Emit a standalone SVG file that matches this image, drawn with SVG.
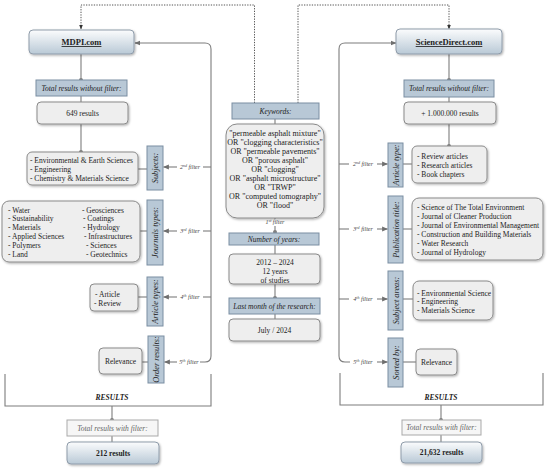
<svg xmlns="http://www.w3.org/2000/svg" width="550" height="472" viewBox="0 0 550 472">
<defs>
<linearGradient id="gb" x1="0" y1="0" x2="0" y2="1">
<stop offset="0" stop-color="#fbfcfd"/>
<stop offset="1" stop-color="#b9c9d6"/>
</linearGradient>
<filter id="sh" x="-10%" y="-20%" width="125%" height="150%">
<feDropShadow dx="1" dy="1.2" stdDeviation="0.8" flood-color="#000" flood-opacity="0.3"/>
</filter>
<marker id="ah" viewBox="0 0 10 10" refX="9" refY="5" markerWidth="6" markerHeight="6" orient="auto" markerUnits="userSpaceOnUse">
<path d="M0,1 L10,5 L0,9 z" fill="#6f6f6f"/>
</marker>
<marker id="ad" viewBox="0 0 10 10" refX="9" refY="5" markerWidth="5" markerHeight="5" orient="auto" markerUnits="userSpaceOnUse">
<path d="M0,1 L10,5 L0,9 z" fill="#333"/>
</marker>
</defs>
<style>
text{font-family:"Liberation Serif","Times New Roman",serif;fill:#222}
.ln{fill:none;stroke:#7d7d7d;stroke-width:1.1}
.dot{fill:none;stroke:#555;stroke-width:1;stroke-dasharray:1.3 1.3}
.hd{fill:#b8c8d6;stroke:#7a8ea2;stroke-width:1}
.gb{fill:url(#gb);stroke:#8f9caa;stroke-width:1;filter:url(#sh)}
.gy{fill:#eeeeee;stroke:#8a8a8a;stroke-width:1;filter:url(#sh)}
.wf{fill:#f6f6f6;stroke:#a9a9a9;stroke-width:1}
.dt{fill:#808080}
.t{font-size:7.5px}
.it{font-size:7.5px;font-style:italic}
.vl{font-size:8.3px;font-style:italic}
.tt{font-size:8.5px;font-weight:bold;text-decoration:underline}
.b{font-size:7.5px;font-weight:bold}
.bi{font-size:7.5px;font-weight:bold;font-style:italic}
.fl{font-size:6px;font-style:italic;fill:#444}
.gt{font-size:7.5px;font-style:italic;fill:#666}
.kw{font-size:8px}
</style>

<g id="connectors">
<!-- dotted from keywords -->
<path class="dot" d="M254.5 103 V5 H81 V29" marker-end="url(#ad)"/>
<path class="dot" d="M298 103 V5 H449 V29" marker-end="url(#ad)"/>
<!-- left main loop -->
<path class="ln" d="M200 362 H205 Q211 362 211 356 V49 Q211 43 205 43 H135" marker-end="url(#ah)"/>
<!-- right main loop -->
<path class="ln" d="M350 362 H345 Q339 362 339 356 V49 Q339 43 345 43 H396" marker-end="url(#ah)"/>
<!-- left filter arrows -->
<path class="ln" d="M203 167 H211"/><path class="ln" d="M177 167 H163.5" marker-end="url(#ah)"/>
<path class="ln" d="M203 231 H211"/><path class="ln" d="M177 231 H163.5" marker-end="url(#ah)"/>
<path class="ln" d="M203 297 H211"/><path class="ln" d="M177 297 H163.5" marker-end="url(#ah)"/>
<path class="ln" d="M177 362 H164.5" marker-end="url(#ah)"/>
<!-- right filter arrows -->
<path class="ln" d="M339 164 H349"/><path class="ln" d="M377 164 H387.5" marker-end="url(#ah)"/>
<path class="ln" d="M339 229 H349"/><path class="ln" d="M377 229 H387.5" marker-end="url(#ah)"/>
<path class="ln" d="M339 299 H349"/><path class="ln" d="M377 299 H387.5" marker-end="url(#ah)"/>
<path class="ln" d="M377 362 H387.5" marker-end="url(#ah)"/>
<!-- left column vertical links -->
<path class="ln" d="M81 54 V80"/><path class="ln" d="M81 96 V102"/><path class="ln" d="M81 124 V152"/>
<circle class="dt" cx="81" cy="80" r="2"/><circle class="dt" cx="81" cy="152" r="2"/>
<!-- left list to label -->
<path class="ln" d="M138 169 H147"/><path class="ln" d="M140 231 H147"/><path class="ln" d="M138 297 H147"/><path class="ln" d="M142 362 H148"/>
<!-- right column vertical links -->
<path class="ln" d="M449 54 V80"/><path class="ln" d="M449 97 V102"/><path class="ln" d="M449 124 V146"/>
<circle class="dt" cx="449" cy="80" r="2"/><circle class="dt" cx="449" cy="146" r="2"/>
<path class="ln" d="M403 164 H412"/><path class="ln" d="M403 229 H412"/><path class="ln" d="M403 299 H413"/><path class="ln" d="M403 362 H416"/>
<!-- center -->
<path class="ln" d="M275 119 V124"/><path class="ln" d="M275 218 V219"/><path class="ln" d="M275 226 V232"/>
<circle class="dt" cx="275" cy="232" r="2"/>
<path class="ln" d="M275 245 V254"/><path class="ln" d="M275 284 V298"/><circle class="dt" cx="275" cy="298" r="2"/>
<path class="ln" d="M275 314 V319"/>
<!-- results brackets -->
<path class="ln" d="M5 374 V406 H211 V374"/>
<path class="ln" d="M112 406 V420"/><circle class="dt" cx="112" cy="420" r="2"/><path class="ln" d="M112 436 V442"/>
<path class="ln" d="M340 373 V405 H543 V373"/>
<path class="ln" d="M441 405 V420"/><circle class="dt" cx="441" cy="420" r="2"/><path class="ln" d="M441 435 V442"/>
</g>

<g id="filter-labels">
<text class="fl" x="190" y="169" text-anchor="middle">2<tspan dy="-2" font-size="4">nd</tspan><tspan dy="2"> filter</tspan></text>
<text class="fl" x="190" y="233" text-anchor="middle">3<tspan dy="-2" font-size="4">rd</tspan><tspan dy="2"> filter</tspan></text>
<text class="fl" x="190" y="299" text-anchor="middle">4<tspan dy="-2" font-size="4">th</tspan><tspan dy="2"> filter</tspan></text>
<text class="fl" x="189" y="364" text-anchor="middle">5<tspan dy="-2" font-size="4">th</tspan><tspan dy="2"> filter</tspan></text>
<text class="fl" x="363" y="166" text-anchor="middle">2<tspan dy="-2" font-size="4">nd</tspan><tspan dy="2"> filter</tspan></text>
<text class="fl" x="363" y="231" text-anchor="middle">3<tspan dy="-2" font-size="4">rd</tspan><tspan dy="2"> filter</tspan></text>
<text class="fl" x="363" y="301" text-anchor="middle">4<tspan dy="-2" font-size="4">th</tspan><tspan dy="2"> filter</tspan></text>
<text class="fl" x="363" y="364" text-anchor="middle">5<tspan dy="-2" font-size="4">th</tspan><tspan dy="2"> filter</tspan></text>
<text class="fl" x="275" y="224" text-anchor="middle">1<tspan dy="-2" font-size="4">st</tspan><tspan dy="2"> filter</tspan></text>
</g>

<g id="mdpi"><rect class="gb" x="29" y="30" width="105" height="24" rx="4"/><text class="tt" x="81.5" y="45" text-anchor="middle">MDPI.com</text></g>
<g id="mdpi-total-hdr"><rect class="hd" x="36" y="80" width="91" height="16"/><text class="it" x="81.5" y="90.5" text-anchor="middle">Total results without filter:</text></g>
<g id="mdpi-649"><rect class="gy" x="37" y="102" width="91" height="22" rx="4"/><text class="t" x="82.5" y="115.5" text-anchor="middle">649 results</text></g>
<g id="mdpi-subjects-list"><rect class="gy" x="27" y="152" width="111" height="33" rx="5"/>
<text class="t" x="30" y="162.5">- Environmental &amp; Earth Sciences</text>
<text class="t" x="30" y="171.5">- Engineering</text>
<text class="t" x="30" y="180.5">- Chemistry &amp; Materials Science</text></g>
<g id="mdpi-subjects-lbl"><rect class="hd" x="147" y="146" width="16" height="44"/><text class="vl" transform="translate(158,168) rotate(-90)" text-anchor="middle">Subjects:</text></g>
<g id="mdpi-journals-list"><rect class="gy" x="2" y="201" width="138" height="61" rx="7"/>
<text class="t" x="8" y="212.5">- Water</text>
<text class="t" x="8" y="221.4">- Sustainability</text>
<text class="t" x="8" y="230.3">- Materials</text>
<text class="t" x="8" y="239.2">- Applied Sciences</text>
<text class="t" x="8" y="248.1">- Polymers</text>
<text class="t" x="8" y="257">- Land</text>
<text class="t" x="82" y="212.5">- Geosciences</text>
<text class="t" x="83" y="221.4">- Coatings</text>
<text class="t" x="83" y="230.3">- Hydrology</text>
<text class="t" x="84" y="239.2">- Infrastructures</text>
<text class="t" x="86" y="248.1">- Sciences</text>
<text class="t" x="86" y="257">- Geotechnics</text></g>
<g id="mdpi-journals-lbl"><rect class="hd" x="147" y="200" width="16" height="65"/><text class="vl" transform="translate(158,232.5) rotate(-90)" text-anchor="middle">Journals types:</text></g>
<g id="mdpi-article-list"><rect class="gy" x="90" y="284" width="48" height="27" rx="4"/>
<text class="t" x="95" y="296.5">- Article</text>
<text class="t" x="94" y="305.5">- Review</text></g>
<g id="mdpi-article-lbl"><rect class="hd" x="147" y="277" width="16" height="49"/><text class="vl" transform="translate(158,301.5) rotate(-90)" text-anchor="middle">Article types:</text></g>
<g id="mdpi-relevance"><rect class="gy" x="99" y="348" width="43" height="26" rx="4"/><text class="t" x="120.5" y="364" text-anchor="middle">Relevance</text></g>
<g id="mdpi-order-lbl"><rect class="hd" x="148" y="336" width="16" height="47"/><text class="vl" transform="translate(159,359.5) rotate(-90)" text-anchor="middle">Order results:</text></g>
<g id="mdpi-results"><text class="bi" x="112" y="400" text-anchor="middle">RESULTS</text></g>
<g id="mdpi-total-filter"><rect class="wf" x="67" y="420" width="91" height="16"/><text class="gt" x="112.5" y="430.5" text-anchor="middle">Total results with filter:</text></g>
<g id="mdpi-212"><rect class="gb" x="67" y="442" width="92" height="22" rx="4"/><text class="b" x="113" y="455.5" text-anchor="middle">212 results</text></g>

<g id="keywords-hdr"><rect class="hd" x="232" y="103" width="87" height="16"/><text class="it" x="275.5" y="113.5" text-anchor="middle">Keywords:</text></g>
<g id="keywords-list"><rect class="gy" x="226" y="124" width="98" height="94" rx="11"/>
<text class="kw" x="275" y="135.5" text-anchor="middle">"permeable asphalt mixture"</text>
<text class="kw" x="275" y="144.6" text-anchor="middle">OR "clogging characteristics"</text>
<text class="kw" x="275" y="153.7" text-anchor="middle">OR "permeable pavements"</text>
<text class="kw" x="275" y="162.8" text-anchor="middle">OR "porous asphalt"</text>
<text class="kw" x="275" y="171.9" text-anchor="middle">OR "clogging"</text>
<text class="kw" x="275" y="181" text-anchor="middle">OR "asphalt microstructure"</text>
<text class="kw" x="275" y="190.1" text-anchor="middle">OR "TRWP"</text>
<text class="kw" x="275" y="199.2" text-anchor="middle">OR "computed tomography"</text>
<text class="kw" x="275" y="208.3" text-anchor="middle">OR "flood"</text></g>
<g id="years-hdr"><rect class="hd" x="229" y="233" width="90" height="12"/><text class="it" x="274" y="241.5" text-anchor="middle">Number of years:</text></g>
<g id="years"><rect class="gy" x="229" y="254" width="91" height="30" rx="4"/>
<text class="t" x="275" y="264.5" text-anchor="middle">2012 – 2024</text>
<text class="t" x="275" y="273.5" text-anchor="middle">12 years</text>
<text class="t" x="275" y="282.5" text-anchor="middle">of studies</text></g>
<g id="month-hdr"><rect class="hd" x="229" y="298" width="91" height="16"/><text class="it" x="274.5" y="308.5" text-anchor="middle">Last month of the research:</text></g>
<g id="month"><rect class="gy" x="229" y="319" width="91" height="22" rx="4"/><text class="t" x="274.5" y="332.5" text-anchor="middle">July / 2024</text></g>

<g id="sd"><rect class="gb" x="396" y="29" width="106" height="25" rx="4"/><text class="tt" x="449" y="45" text-anchor="middle">ScienceDirect.com</text></g>
<g id="sd-total-hdr"><rect class="hd" x="404" y="80" width="90" height="17"/><text class="it" x="449" y="91" text-anchor="middle">Total results without filter:</text></g>
<g id="sd-1m"><rect class="gy" x="404" y="102" width="92" height="22" rx="4"/><text class="t" x="450" y="115.5" text-anchor="middle">+ 1.000.000 results</text></g>
<g id="sd-article-list"><rect class="gy" x="412" y="146" width="75" height="37" rx="5"/>
<text class="t" x="417" y="158.5">- Review articles</text>
<text class="t" x="417" y="167.5">- Research articles</text>
<text class="t" x="417" y="176.5">- Book chapters</text></g>
<g id="sd-article-lbl"><rect class="hd" x="388" y="143" width="15" height="44"/><text class="vl" transform="translate(398.5,165) rotate(-90)" text-anchor="middle">Article type:</text></g>
<g id="sd-pub-list"><rect class="gy" x="412" y="198" width="131" height="62" rx="7"/>
<text class="t" x="417" y="209.5">- Science of The Total Environment</text>
<text class="t" x="417" y="218.5">- Journal of Cleaner Production</text>
<text class="t" x="417" y="227.5">- Journal of Environmental Management</text>
<text class="t" x="417" y="236.5">- Construction and Building Materials</text>
<text class="t" x="417" y="245.5">- Water Research</text>
<text class="t" x="417" y="254.5">- Journal of Hydrology</text></g>
<g id="sd-pub-lbl"><rect class="hd" x="388" y="196" width="15" height="67"/><text class="vl" transform="translate(398.5,229.5) rotate(-90)" text-anchor="middle">Publication title:</text></g>
<g id="sd-subject-list"><rect class="gy" x="413" y="281" width="80" height="39" rx="6"/>
<text class="t" x="417" y="295.5">- Environmental Science</text>
<text class="t" x="417" y="304.3">- Engineering</text>
<text class="t" x="417" y="313.1">- Materials Science</text></g>
<g id="sd-subject-lbl"><rect class="hd" x="388" y="271" width="15" height="59"/><text class="vl" transform="translate(398.5,300.5) rotate(-90)" text-anchor="middle">Subject areas:</text></g>
<g id="sd-relevance"><rect class="gy" x="416" y="349" width="41" height="26" rx="4"/><text class="t" x="436.5" y="364.5" text-anchor="middle">Relevance</text></g>
<g id="sd-sorted-lbl"><rect class="hd" x="388" y="338" width="15" height="49"/><text class="vl" transform="translate(398.5,362.5) rotate(-90)" text-anchor="middle">Sorted by:</text></g>
<g id="sd-results"><text class="bi" x="441" y="400" text-anchor="middle">RESULTS</text></g>
<g id="sd-total-filter"><rect class="wf" x="402" y="420" width="79" height="15"/><text class="gt" x="441.5" y="430" text-anchor="middle">Total results with filter:</text></g>
<g id="sd-21632"><rect class="gb" x="401" y="442" width="81" height="21" rx="4"/><text class="b" x="441.5" y="455" text-anchor="middle">21,632 results</text></g>
</svg>
